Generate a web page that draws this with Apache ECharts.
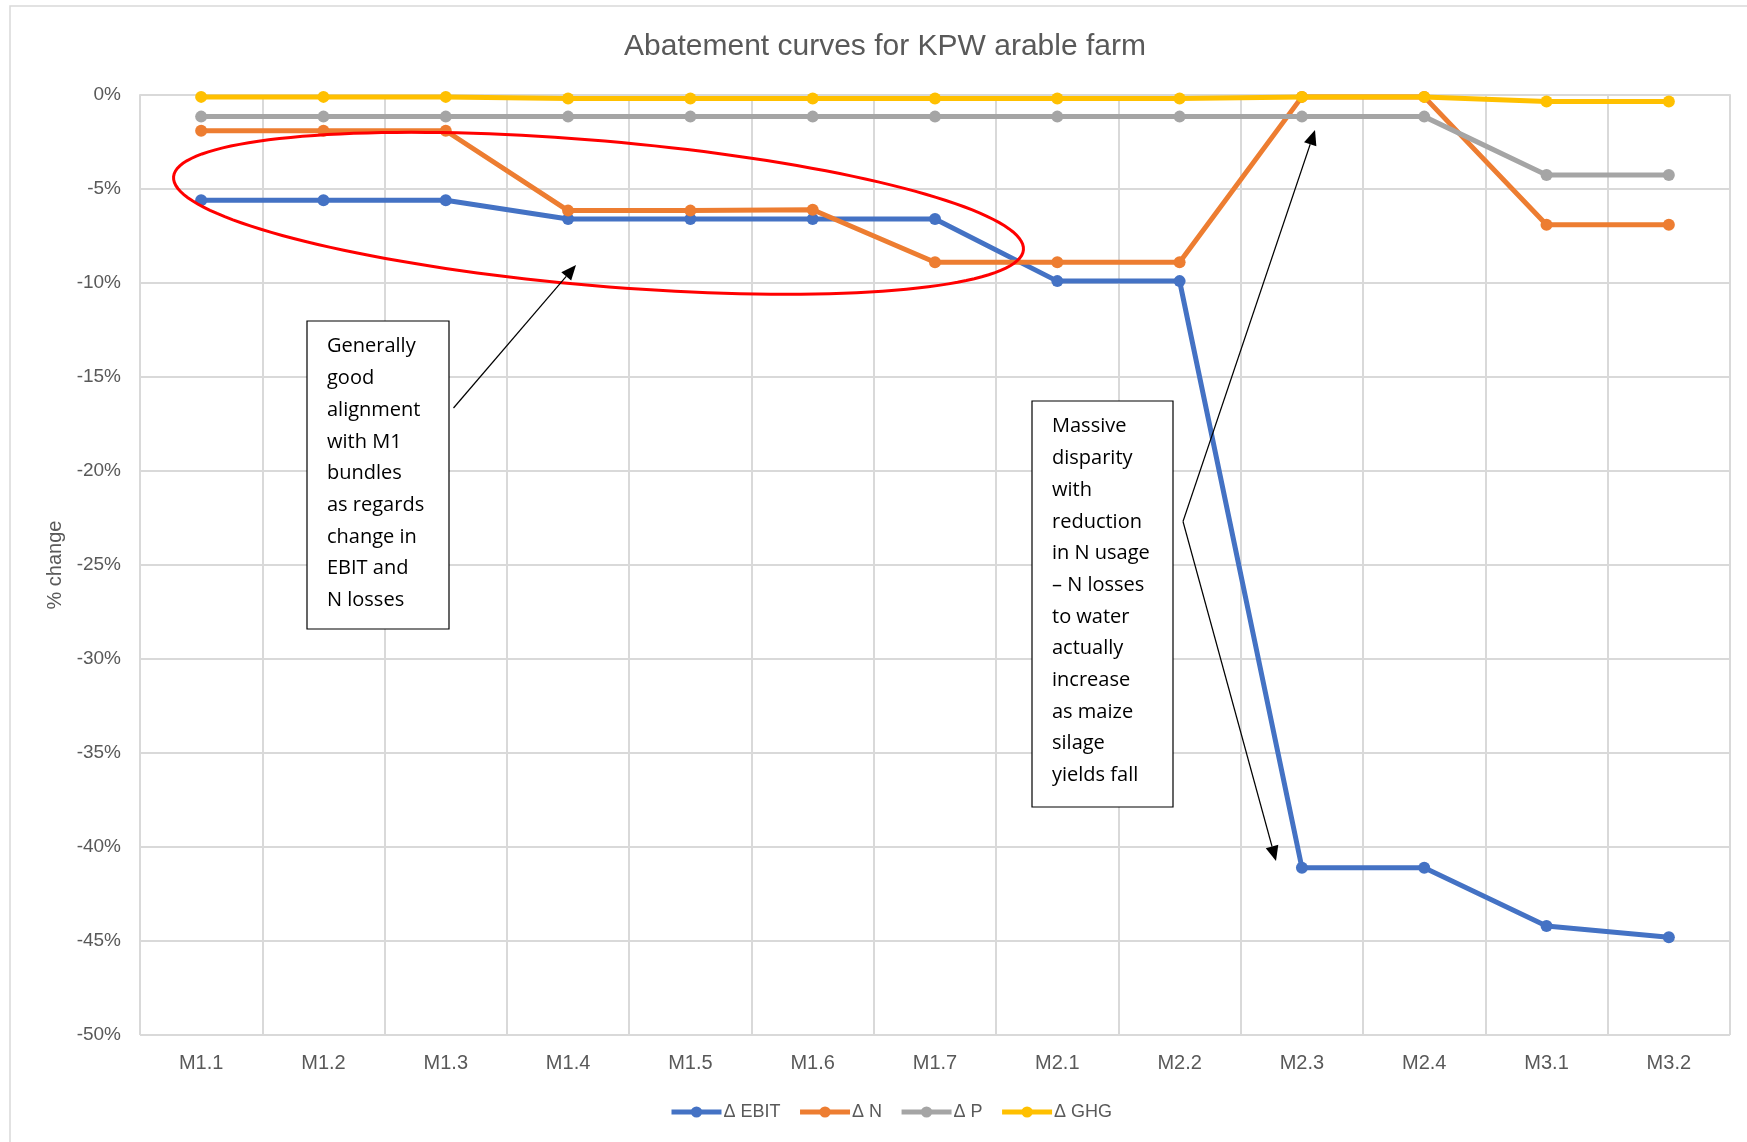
<!DOCTYPE html>
<html>
<head>
<meta charset="utf-8">
<script src="https://cdn.jsdelivr.net/npm/echarts@6/dist/echarts.min.js"></script>
<style>
html,body{margin:0;padding:0;background:#fff;}
#chart{width:1747px;height:1142px;}
</style>
</head>
<body>
<div id="chart"></div>
<script>
const categories = ['M1.1','M1.2','M1.3','M1.4','M1.5','M1.6','M1.7','M2.1','M2.2','M2.3','M2.4','M3.1','M3.2'];
const ebitValues = [-5.6,-5.6,-5.6,-6.6,-6.6,-6.6,-6.6,-9.9,-9.9,-41.1,-41.1,-44.2,-44.8];
const nValues = [-1.9,-1.9,-1.9,-6.15,-6.15,-6.1,-8.9,-8.9,-8.9,-0.1,-0.1,-6.9,-6.9];
const pValues = [-1.15,-1.15,-1.15,-1.15,-1.15,-1.15,-1.15,-1.15,-1.15,-1.15,-1.15,-4.25,-4.25];
const ghgValues = [-0.1,-0.1,-0.1,-0.19,-0.19,-0.19,-0.19,-0.19,-0.19,-0.1,-0.1,-0.34,-0.34];
const seriesNames = ['\u0394 EBIT','\u0394 N','\u0394 P','\u0394 GHG'];
const seriesColors = ['#4472C4','#ED7D31','#A5A5A5','#FFC000'];
const yTicks = {min:-50, max:0, interval:5};
const note1Lines = ['Generally','good','alignment','with M1','bundles','as regards','change in','EBIT and','N losses'];
const note2Lines = ['Massive','disparity','with','reduction','in N usage','\u2013 N losses','to water','actually','increase','as maize','silage','yields fall'];

const chart = echarts.init(document.getElementById('chart'), null, {renderer:'canvas'});

function arrowEls(x1,y1,x2,y2){
  const headLen = 15, headW = 6.5;
  const dx = x2-x1, dy = y2-y1, L = Math.hypot(dx,dy), ux = dx/L, uy = dy/L;
  const bx = x2-ux*headLen, by = y2-uy*headLen;
  return [
    {type:'line', z:100, shape:{x1:x1,y1:y1,x2:bx,y2:by}, style:{stroke:'#000', lineWidth:1.2}},
    {type:'polygon', z:100, shape:{points:[[x2,y2],[bx-uy*headW,by+ux*headW],[bx+uy*headW,by-ux*headW]]}, style:{fill:'#000'}}
  ];
}
function ellipsePoints(cx,cy,a,b,theta){
  const pts=[];
  for(let i=0;i<160;i++){
    const phi = i/160*Math.PI*2;
    const ca = a*Math.cos(phi), sb = b*Math.sin(phi);
    pts.push([cx + ca*Math.cos(theta) - sb*Math.sin(theta), cy + ca*Math.sin(theta) + sb*Math.cos(theta)]);
  }
  return pts;
}
function noteBox(x,y,w,h,lines,textX,firstCenter){
  const lh = 31.7;
  return [
    {type:'rect', z:90, shape:{x:x,y:y,width:w,height:h}, style:{fill:'#fff', stroke:'#000', lineWidth:1.2}},
    {type:'text', z:91, x:textX, y:firstCenter - lh/2, style:{text:lines.join('\n'), font:'20px "Open Sans"', fill:'#000', lineHeight:lh, textVerticalAlign:'top', verticalAlign:'top'}}
  ];
}

const graphics = [
  {type:'rect', z:-1, shape:{x:10,y:6,width:1800,height:1200}, style:{fill:null, stroke:'#d9d9d9', lineWidth:1.5}},
  {type:'polygon', z:95, shape:{points:ellipsePoints(598.5,213.3,426.5,72.5,0.0859)}, style:{fill:null, stroke:'#FF0000', lineWidth:3}}
].concat(
  noteBox(307,321,142,308,note1Lines,327,346.7),
  noteBox(1032,401,141,406,note2Lines,1052,426.7),
  arrowEls(453.5,408,576,265),
  arrowEls(1183,521.5,1315,130),
  arrowEls(1183,521.5,1276,861)
);

const dataSets = [ebitValues,nValues,pValues,ghgValues];
const option = {
  animation:false,
  backgroundColor:'#fff',
  title:{
    text:'Abatement curves for KPW arable farm',
    left:880, top:27, textAlign:'center',
    textStyle:{color:'#595959', fontSize:30, fontWeight:'normal', fontFamily:'Liberation Sans'}
  },
  legend:{
    data:seriesNames,
    left:664, top:1098,
    itemWidth:50, itemHeight:14, itemGap:17,
    lineStyle:{width:5},
    textStyle:{color:'#595959', fontSize:18, fontFamily:'Liberation Sans', padding:[0,0,0,-3]}
  },
  grid:{left:140, right:17, top:95, bottom:107, containLabel:false},
  xAxis:{
    type:'category', data:categories, boundaryGap:true,
    axisLine:{show:true, lineStyle:{color:'#d9d9d9', width:2}},
    axisTick:{show:false},
    axisLabel:{color:'#595959', fontSize:20, fontFamily:'Liberation Sans', margin:18},
    splitLine:{show:true, lineStyle:{color:'#d9d9d9', width:2}}
  },
  yAxis:{
    type:'value', min:yTicks.min, max:yTicks.max, interval:yTicks.interval,
    name:'% change', nameLocation:'middle', nameGap:74, nameRotate:90,
    nameTextStyle:{color:'#595959', fontSize:20, fontFamily:'Liberation Sans'},
    axisLine:{show:false}, axisTick:{show:false},
    axisLabel:{color:'#595959', fontSize:19, fontFamily:'Liberation Sans', margin:19, formatter:'{value}%'},
    splitLine:{show:true, lineStyle:{color:'#d9d9d9', width:2}}
  },
  series: seriesNames.map((n,i)=>({
    name:n, type:'line', data:dataSets[i],
    symbol:'circle', symbolSize:12, showSymbol:true,
    itemStyle:{color:seriesColors[i]},
    lineStyle:{color:seriesColors[i], width:5},
    emphasis:{disabled:true}, z:2+i
  })),
  graphic:{elements:graphics}
};
chart.setOption(option);
</script>
</body>
</html>
